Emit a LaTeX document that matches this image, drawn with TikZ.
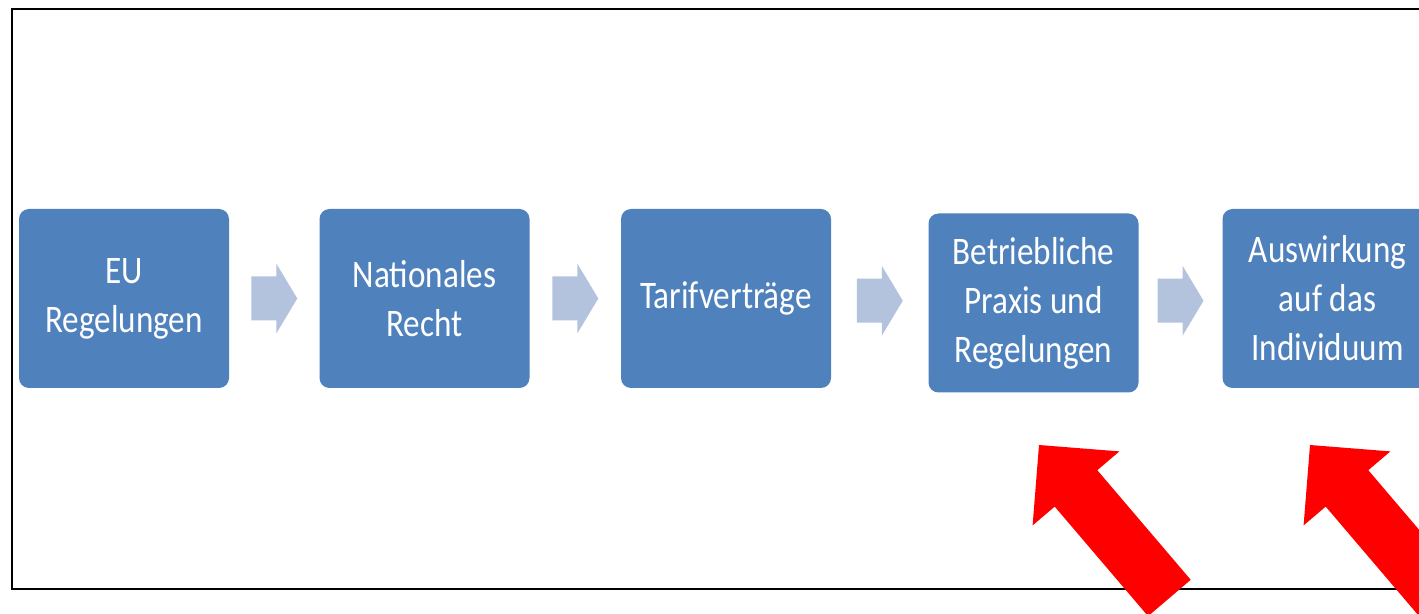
\documentclass[tikz,border=0pt]{standalone}
\usepackage{fontspec}
\setmainfont{Carlito}[FakeStretch=0.85]
\usetikzlibrary{calc}
\definecolor{boxblue}{HTML}{4F81BD}
\definecolor{flowblue}{HTML}{B3C3DE}
\definecolor{alarm}{HTML}{FF0000}
\tikzset{
  stage/.style={draw=none, fill=boxblue, rounded corners=5pt,
    minimum width=105pt, minimum height=89.5pt, inner sep=0pt,
    text=white, align=center, font=\fontsize{19.5}{24.5}\selectfont},
  flow/.pic={\fill[flowblue] (-23,-22) -- (2,-22) -- (2,-35) -- (23,0)
    -- (2,35) -- (2,22) -- (-23,22) -- cycle;},
  pointer/.pic={\fill[alarm] (0,0) -- (80.4,6.4) -- (58.3,25.2)
    -- (151.7,134.8) -- (109.1,171.2) -- (15.7,61.6) -- (-6.4,80.4) -- cycle;},
  frameline/.style={line width=0.75pt, draw=black}
}
\begin{document}
\begin{tikzpicture}[x=0.5pt,y=-0.5pt]
\useasboundingbox (0,0) rectangle (1419,614);
\clip (0,0) rectangle (1419,614);
\fill[white] (0,0) rectangle (1419,614);
\draw[frameline] (1440,9) -- (12,9) -- (12,589) -- (1440,589);

\node[stage] (b1) at (124,298.5) {EU\\Regelungen};
\node[stage] (b2) at (424.5,298.5) {Nationales\\Recht};
\node[stage] (b3) at (726,298.5) {Tarifverträge};
\node[stage] (b4) at (1033.5,303) {Betriebliche\\Praxis und\\Regelungen};
\node[stage] (b5) at (1327.5,298.5) {Auswirkung\\auf das\\Individuum};

\pic (f1) at ($(b1.east)!0.5!(b2.west)$) {flow};
\pic (f2) at ($(b2.east)!0.5!(b3.west)$) {flow};
\pic (f3) at ($(b3.east)!0.5!(b4.west)$) {flow};
\pic (f4) at ($(b4.east)!0.5!(b5.west)$) {flow};

\coordinate (t1) at (1039,445);
\coordinate (t2) at (1310,445);
\pic (p1) at (t1) {pointer};
\pic (p2) at (t2) {pointer};
\end{tikzpicture}
\end{document}
